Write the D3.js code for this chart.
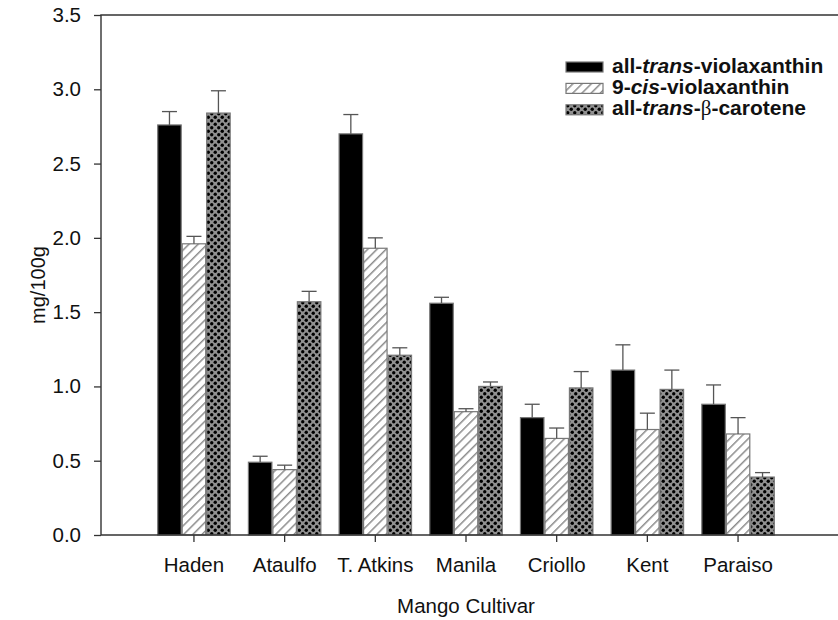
<!DOCTYPE html>
<html>
<head>
<meta charset="utf-8">
<script src="https://cdn.jsdelivr.net/npm/d3@7"></script>
<style>
  body { margin: 0; background: #fff; }
  text { font-family: "Liberation Sans", Arial, Helvetica, sans-serif; fill: #111; }
</style>
</head>
<body>
<svg id="chart"></svg>
<script>
// values
const cultivars = ['Haden', 'Ataulfo', 'T. Atkins', 'Manila', 'Criollo', 'Kent', 'Paraiso'];
const transViola = [2.76, 0.49, 2.70, 1.56, 0.79, 1.11, 0.88];
const transViolaErr = [0.09, 0.04, 0.13, 0.04, 0.09, 0.17, 0.13];
const cisViola = [1.96, 0.44, 1.93, 0.83, 0.65, 0.71, 0.68];
const cisViolaErr = [0.05, 0.03, 0.07, 0.02, 0.07, 0.11, 0.11];
const betaCarotene = [2.84, 1.57, 1.21, 1.00, 0.99, 0.98, 0.39];
const betaCaroteneErr = [0.15, 0.07, 0.05, 0.03, 0.11, 0.13, 0.03];
const yTicks = [0, 0.5, 1.0, 1.5, 2.0, 2.5, 3.0, 3.5];

const series = [
    {key: 'trans', fill: '#000', values: transViola, err: transViolaErr},
    {key: 'cis', fill: 'url(#hatch)', values: cisViola, err: cisViolaErr},
    {key: 'beta', fill: 'url(#dots)', values: betaCarotene, err: betaCaroteneErr}
];

const width = 838, height = 620;
const margin = {top: 15, left: 101, bottom: 85};
const plotBottom = height - margin.bottom;

const svg = d3.select('#chart')
    .attr('width', width)
    .attr('height', height);

// fill patterns
const defs = svg.append('defs');
const hatch = defs.append('pattern')
    .attr('id', 'hatch')
    .attr('patternUnits', 'userSpaceOnUse')
    .attr('width', 6.5).attr('height', 6.5)
    .attr('patternTransform', 'rotate(45)');
hatch.append('rect').attr('width', 6.5).attr('height', 6.5).attr('fill', '#fff');
hatch.append('line')
    .attr('x1', 0).attr('y1', 0).attr('x2', 0).attr('y2', 6.5)
    .attr('stroke', '#8c8c8c').attr('stroke-width', 3);

const dots = defs.append('pattern')
    .attr('id', 'dots')
    .attr('patternUnits', 'userSpaceOnUse')
    .attr('width', 7).attr('height', 7);
dots.append('rect').attr('width', 7).attr('height', 7).attr('fill', '#919191');
dots.append('circle').attr('cx', 1.75).attr('cy', 1.75).attr('r', 1.7).attr('fill', '#000');
dots.append('circle').attr('cx', 5.25).attr('cy', 5.25).attr('r', 1.7).attr('fill', '#000');

const xscale = d3.scaleBand()
    .domain(cultivars)
    .range([margin.left, 831])
    .paddingInner(0.19)
    .paddingOuter(0.62);

const xsub = d3.scaleBand()
    .domain(series.map(s => s.key))
    .range([0, xscale.bandwidth()]);

const yscale = d3.scaleLinear()
    .domain([0, 3.5])
    .range([plotBottom, margin.top]);

// bars
const groups = svg.append('g')
    .selectAll('g')
    .data(series)
    .join('g');

groups.selectAll('rect')
    .data(s => s.values.map((v, i) => ({key: s.key, fill: s.fill, v: v, e: s.err[i], c: cultivars[i]})))
    .join('rect')
    .attr('x', d => xscale(d.c) + xsub(d.key) + 0.5)
    .attr('y', d => yscale(d.v))
    .attr('width', xsub.bandwidth() - 1)
    .attr('height', d => plotBottom - yscale(d.v))
    .attr('fill', d => d.fill)
    .attr('stroke', '#777')
    .attr('stroke-width', 1.2);

// error bars (upper only)
const errs = svg.append('g')
    .attr('stroke', '#555')
    .attr('stroke-width', 1.3);

series.forEach(s => {
    s.values.forEach((v, i) => {
        const cx = xscale(cultivars[i]) + xsub(s.key) + xsub.bandwidth() / 2;
        errs.append('line')
            .attr('x1', cx).attr('x2', cx)
            .attr('y1', yscale(v)).attr('y2', yscale(v + s.err[i]));
        errs.append('line')
            .attr('x1', cx - 7.5).attr('x2', cx + 7.5)
            .attr('y1', yscale(v + s.err[i])).attr('y2', yscale(v + s.err[i]));
    });
});

// axes
const yaxis = d3.axisLeft(yscale)
    .tickValues(yTicks)
    .tickFormat(d3.format('.1f'))
    .tickSize(7)
    .tickPadding(13);

const yaxis_group = svg.append('g')
    .attr('transform', `translate(${margin.left}, 0)`)
    .call(yaxis);

const xaxis = d3.axisBottom(xscale)
    .tickSize(7)
    .tickPadding(15);

const xaxis_group = svg.append('g')
    .attr('transform', `translate(0, ${plotBottom})`)
    .call(xaxis);

[yaxis_group, xaxis_group].forEach(g => {
    g.select('.domain').remove();
    g.selectAll('line').attr('stroke', '#333').attr('stroke-width', 1.3);
    g.selectAll('text')
        .style('font-size', '20.5px')
        .style('font-family', '"Liberation Sans", Arial, sans-serif')
        .attr('fill', '#111');
});

// frame lines
svg.append('path')
    .attr('d', `M${width},${margin.top}H${margin.left}V${plotBottom}H${width}`)
    .attr('fill', 'none')
    .attr('stroke', '#333')
    .attr('stroke-width', 1.4);

// axis titles
svg.append('text')
    .style('font-size', '20.5px')
    .attr('x', 466)
    .attr('y', 613)
    .attr('text-anchor', 'middle')
    .text('Mango Cultivar');

svg.append('text')
    .style('font-size', '20px')
    .attr('transform', 'rotate(-90)')
    .attr('x', -285)
    .attr('y', 45)
    .attr('text-anchor', 'middle')
    .text('mg/100g');

// legend
const legend = svg.append('g')
    .attr('transform', 'translate(566, 62)');

const rowGap = 21.4;
legend.selectAll('rect')
    .data(series)
    .join('rect')
    .attr('x', 0)
    .attr('y', (d, i) => i * rowGap)
    .attr('width', 37)
    .attr('height', 10)
    .attr('fill', d => d.fill)
    .attr('stroke', '#777')
    .attr('stroke-width', 1.2);

const labels = [
    [['all-', 'n'], ['trans', 'i'], ['-violaxanthin', 'n']],
    [['9-', 'n'], ['cis', 'i'], ['-violaxanthin', 'n']],
    [['all-', 'n'], ['trans', 'i'], ['-', 'n'], ['\u03b2', 'g'], ['-carotene', 'n']]
];

labels.forEach((parts, i) => {
    const t = legend.append('text')
        .attr('x', 46)
        .attr('y', i * rowGap + 10.5)
        .style('font-size', '21px')
        .style('font-weight', 'bold');
    parts.forEach(p => {
        const ts = t.append('tspan').text(p[0]);
        if (p[1] === 'i') ts.style('font-style', 'italic');
        if (p[1] === 'g') ts.style('font-family', '"Liberation Serif", serif').style('font-weight', 'normal');
    });
});
</script>
</body>
</html>
